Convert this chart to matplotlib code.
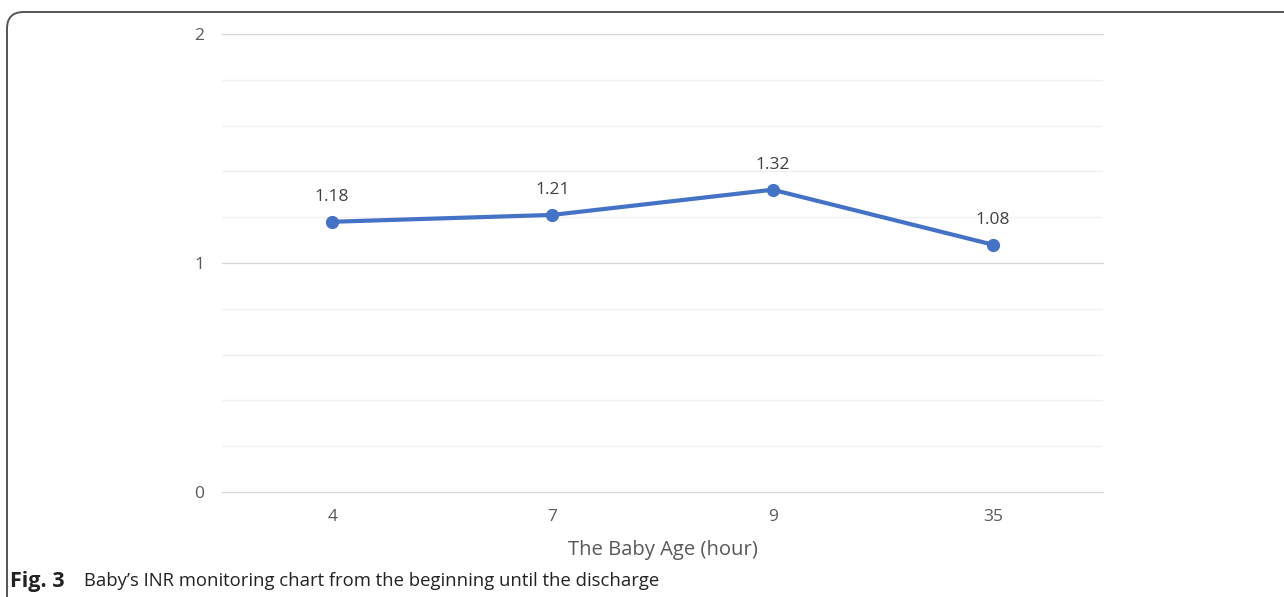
import matplotlib
matplotlib.use("Agg")
import matplotlib.pyplot as plt
from matplotlib.patches import FancyBboxPatch
import numpy as np

categories = ["4", "7", "9", "35"]
inr_values = [1.18, 1.21, 1.32, 1.08]
value_labels = ["1.18", "1.21", "1.32", "1.08"]
y_ticks = [0, 1, 2]
x_label = "The Baby Age (hour)"
caption_bold = "Fig. 3"
caption_text = "Baby\u2019s INR monitoring chart from the beginning until the discharge"

plt.rcParams['font.family'] = ['Open Sans', 'DejaVu Sans']

W, H = 1284, 597
fig = plt.figure(figsize=(W / 100, H / 100), dpi=100)

# border
border = FancyBboxPatch((7 / W, -0.2), 1.2, (H - 12) / H + 0.2,
                        boxstyle="round,pad=0,rounding_size=0.013",
                        transform=fig.transFigure, fill=False,
                        edgecolor="#555555", linewidth=1.4, clip_on=False,
                        mutation_aspect=W / H)
fig.patches.append(border)

ax = fig.add_axes([222 / W, 1 - 492 / H, (1103 - 222) / W, (492 - 34) / H])
x = np.arange(len(categories))
ax.set_xlim(-0.5, len(categories) - 0.5)
ax.set_ylim(0, 2)

# gridlines
for v in np.arange(0.2, 2.0, 0.2):
    if abs(v - 1) > 1e-6:
        ax.axhline(v, color="#f0f0f0", linewidth=1.0, zorder=0)
for v in y_ticks:
    ax.axhline(v, color="#d9d9d9", linewidth=1.0, zorder=0, clip_on=False)

ax.plot(x, inr_values, color="#4472C4", linewidth=3, marker="o",
        markersize=8.5, zorder=3, clip_on=False)
for xi, yi, lab in zip(x, inr_values, value_labels):
    ax.annotate(lab, (xi, yi), xytext=(0, 18), textcoords="offset points",
                ha="center", va="center", fontsize=12.5, color="#404040")

for s in ax.spines.values():
    s.set_visible(False)
ax.set_xticks(x)
ax.set_xticklabels(categories)
ax.set_yticks(y_ticks)
ax.set_yticklabels([str(t) for t in y_ticks])
ax.tick_params(axis="both", length=0, labelsize=12.5, labelcolor="#595959")
ax.tick_params(axis="y", pad=13)
ax.tick_params(axis="x", pad=12)
ax.set_xlabel(x_label, fontsize=14.6, color="#595959", labelpad=11)

fig.text(10 / W, 1 - 581 / H, caption_bold, fontsize=15.5, fontweight="bold",
         ha="left", va="center", color="#222222")
fig.text(84 / W, 1 - 581 / H, caption_text, fontsize=13.3,
         ha="left", va="center", color="#222222")

fig.savefig("out.png", dpi=100)
